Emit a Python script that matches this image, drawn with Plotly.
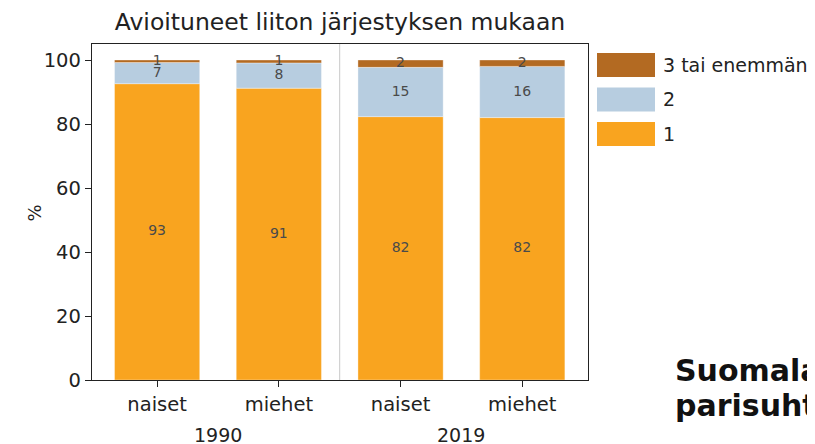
"""Avioituneet liiton järjestyksen mukaan: stacked bars, 1990 vs 2019."""

import numpy as np
import plotly.graph_objects as go

# Data (percent of marriages)
groups = ["naiset", "miehet", "naiset", "miehet"]
years = ["1990", "2019"]
series_names = ["1", "2", "3 tai enemmän"]
first = [92.6, 91.2, 82.3, 82.0]
second = [6.6, 7.9, 15.4, 16.0]
third_plus = [0.8, 0.9, 2.3, 2.0]
y_ticks = [0, 20, 40, 60, 80, 100]

colors = ["#F9A41F", "#B7CDE0", "#B36A22"]
font = "DejaVu Sans"

x = np.arange(len(groups))
values = [first, second, third_plus]

fig = go.Figure()
base = np.zeros(len(groups))
for name, vals, col in zip(series_names, values, colors):
    vals = np.array(vals)
    fig.add_trace(go.Bar(
        x=x, y=vals, base=base, name=name, width=0.7,
        marker=dict(color=col, line=dict(color="rgba(255,255,255,0.35)", width=1)),
        showlegend=False,
    ))
    # segment labels in the middle of each piece
    fig.add_trace(go.Scatter(
        x=x, y=base + vals / 2, mode="text",
        text=[f"{v:.0f}" for v in vals],
        textfont=dict(family=font, size=14, color="#4a4a4a"),
        showlegend=False, hoverinfo="skip",
    ))
    base = base + vals

# separator between years
fig.add_shape(type="line", xref="x", yref="paper", x0=1.5, x1=1.5, y0=0, y1=1,
              line=dict(color="#c8c8c8", width=1))

# year labels under the category ticks
for i, yr in enumerate(years):
    fig.add_annotation(x=2 * i + 0.5, y=0, xref="x", yref="paper", yshift=-55,
                       text=yr, showarrow=False, yanchor="middle",
                       font=dict(family=font, size=19, color="#222"))

# y axis label
fig.add_annotation(x=(21 - 92) / 496, y=(380 - 213) / 336, xref="paper", yref="paper",
                   text="%", textangle=-90, showarrow=False,
                   font=dict(family=font, size=18, color="#222"))

# legend drawn by hand so the swatches are big like the original
for j, (name, col) in enumerate(reversed(list(zip(series_names, colors)))):
    top = 53 + j * 34.5
    fig.add_shape(type="rect", xref="paper", yref="paper",
                  x0=(597 - 92) / 496, x1=(655 - 92) / 496,
                  y0=(380 - top - 24) / 336, y1=(380 - top) / 336,
                  fillcolor=col, line=dict(width=0))
    fig.add_annotation(x=(661 - 92) / 496, y=(380 - top - 12) / 336,
                       xref="paper", yref="paper", text=name, showarrow=False,
                       xanchor="left", yanchor="middle",
                       font=dict(family=font, size=19, color="#222"))

# page heading partly visible in the corner
fig.add_annotation(x=(673 - 92) / 496, y=(380 - 370) / 336, xref="paper", yref="paper",
                   text="<b>Suomalaisten</b>", showarrow=False, xanchor="left",
                   yanchor="middle", font=dict(family=font, size=30, color="#111"))
fig.add_annotation(x=(673 - 92) / 496, y=(380 - 405) / 336, xref="paper", yref="paper",
                   text="<b>parisuhteet</b>", showarrow=False, xanchor="left",
                   yanchor="middle", font=dict(family=font, size=30, color="#111"))

# the page body adds 8px, so margins are set 8px tighter on the left/top
fig.update_layout(
    width=815, height=444,
    margin=dict(l=84, r=235, t=36, b=72),
    paper_bgcolor="white", plot_bgcolor="white",
    barmode="overlay",
    title=dict(text="Avioituneet liiton järjestyksen mukaan", x=332 / 815, xanchor="center",
               y=1 - 14 / 444, yanchor="middle",
               font=dict(family=font, size=23.5, color="#222")),
    font=dict(family=font, size=19.5, color="#222"),
)
fig.update_xaxes(
    range=[-0.535, 3.54], tickvals=x, ticktext=groups,
    ticks="outside", ticklen=6, tickcolor="#222",
    showline=True, linecolor="#222", linewidth=1.3, mirror=True,
    showgrid=False, zeroline=False, tickfont=dict(size=19.5),
)
fig.update_yaxes(
    range=[0, 105], tickvals=y_ticks,
    ticks="outside", ticklen=6, tickcolor="#222",
    showline=True, linecolor="#222", linewidth=1.3, mirror=True,
    showgrid=False, zeroline=False, tickfont=dict(size=19.5),
)

fig.write_html("out.html")
